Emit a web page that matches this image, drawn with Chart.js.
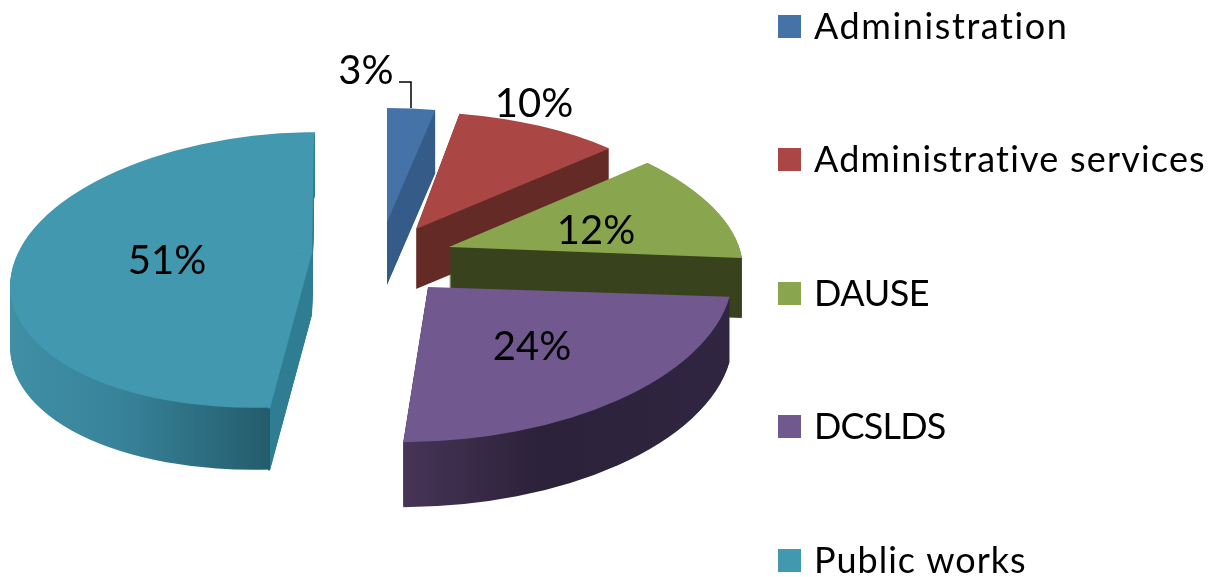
<!DOCTYPE html>
<html>
<head>
<meta charset="utf-8">
<style>html,body{margin:0;padding:0;background:#fff}canvas{display:block}</style>
<script src="https://cdn.jsdelivr.net/npm/chart.js@4"></script>
</head>
<body>
<canvas id="c" width="1210" height="577"></canvas>
<script>
const categories = ["Administration", "Administrative services", "DAUSE", "DCSLDS", "Public works"];
const shares = [3, 10, 12, 24, 51];
const topColours = ["#4572A7", "#AA4643", "#89A54E", "#71588F", "#4198AF"];

// Style only: how each exploded slice is posed in the tilted 3-D view.
// Each part has a tilt matrix [a, b, c, d] and an apex, where the slice's tip lands.
// A part may be limited to one half of the slice and to screen x beyond fromX.
const slicePoses = [
  {parts:[{apex:[387,222], m:[0.89,0,0,0.393]}], depth:63, side:[[380,"#355C88"],[440,"#355C88"]]},
  {parts:[{apex:[416,229], m:[0.94,0,0.027,0.405]}], depth:60, side:[[410,"#642A26"],[615,"#642A26"]]},
  {parts:[{apex:[449,247], m:[1.01,0.038,0.076,0.465]}], depth:60, side:[[445,"#38421D"],[745,"#38421D"]]},
  {parts:[{apex:[428,287], m:[1.04,0.034,-0.151,0.534]}], depth:65, side:[[400,"#483558"],[540,"#2B2139"],[735,"#312642"]]},
  {parts:[
     {apex:[284,270], m:[0.938,0,-0.1076,0.475]},
     {apex:[312,253], m:[1.034,-0.04,-0.21,0.539], half:1, fromX:268},
     {apex:[312,253], m:[1.034,-0.04,-0.007,0.414], half:-1, fromX:268}
   ], depth:62, side:[[10,"#3F8FA5"],[120,"#38839A"],[269.5,"#235C6C"],[270.5,"#2F7D92"],[320,"#2F7D92"]]}
];
const drawOrder = [0, 1, 2, 4, 3];
const labelSpots = [[366,71],[534,104],[596,231],[532,347],[167,261]];
const leaderLine = [[399,82],[411,82],[411,108]];
const legendRows = [27,160,294,427,561];
const legendTracking = [1.6, 1.2, -0.4, -0.8, 1];
const FONT = '"Lato"';

const tilted3D = {
  id: 'tilted3D',
  beforeDatasetsDraw(chart) {
    const ctx = chart.ctx, arcs = chart.getDatasetMeta(0).data;
    drawOrder.forEach(i => {
      const el = arcs[i], pose = slicePoses[i], R = el.outerRadius, k = 290 / R;
      const orig = el.options;
      const stamp = (part, dy) => {
        const [a, b, c, d] = part.m.map(v => v * k);
        ctx.save();
        if (part.fromX !== undefined) {
          ctx.beginPath();
          ctx.rect(part.fromX, 0, chart.width, chart.height);
          ctx.clip();
        }
        ctx.translate(part.apex[0], part.apex[1] + dy);
        ctx.transform(a, b, c, d, 0, 0);
        ctx.translate(-el.x, -el.y);
        if (part.half) {
          ctx.beginPath();
          if (part.half > 0) ctx.rect(el.x - 2 * R, el.y - 0.5, 4 * R, 2 * R);
          else ctx.rect(el.x - 2 * R, el.y - 2 * R, 4 * R, 2 * R + 0.5);
          ctx.clip();
        }
        el.draw(ctx);
        ctx.restore();
      };
      // side walls: gradient isolines kept vertical on screen
      const x0 = pose.side[0][0], x1 = pose.side[pose.side.length - 1][0];
      pose.parts.forEach(part => {
        const [a, , c] = part.m.map(v => v * k);
        const norm = a * a + c * c;
        const P = sx => {
          const s = sx - part.apex[0];
          return [el.x + a * s / norm, el.y + c * s / norm];
        };
        const g = ctx.createLinearGradient(...P(x0), ...P(x1));
        pose.side.forEach(([sx, col]) => g.addColorStop((sx - x0) / (x1 - x0), col));
        el.options = {...orig, backgroundColor: g};
        for (let y = pose.depth; y >= 1; y--) stamp(part, y);
      });
      el.options = orig;
      pose.parts.forEach(part => stamp(part, 0));
    });
    return false;
  },
  afterDraw(chart) {
    const ctx = chart.ctx, total = shares.reduce((s, v) => s + v, 0);
    ctx.save();
    ctx.fillStyle = '#000';
    ctx.textBaseline = 'middle';
    ctx.textAlign = 'center';
    ctx.font = '40px ' + FONT;
    shares.forEach((v, i) => {
      ctx.fillText(Math.round(v / total * 100) + '%', labelSpots[i][0], labelSpots[i][1]);
    });
    ctx.strokeStyle = '#000'; ctx.lineWidth = 1.5;
    ctx.beginPath();
    leaderLine.forEach(([x, y], i) => i ? ctx.lineTo(x, y) : ctx.moveTo(x, y));
    ctx.stroke();
    ctx.textAlign = 'left';
    ctx.font = '36px ' + FONT;
    categories.forEach((name, i) => {
      ctx.fillStyle = topColours[i];
      ctx.fillRect(778, legendRows[i] - 12, 23, 23);
      ctx.fillStyle = '#000';
      ctx.letterSpacing = legendTracking[i] + 'px';
      ctx.fillText(name, 814, legendRows[i]);
    });
    ctx.restore();
  }
};

new Chart(document.getElementById('c'), {
  type: 'pie',
  data: {
    labels: categories,
    datasets: [{data: shares, backgroundColor: topColours, borderWidth: 0}]
  },
  options: {
    responsive: false,
    animation: false,
    layout: {padding: 0},
    plugins: {legend: {display: false}, tooltip: {enabled: false}}
  },
  plugins: [tilted3D]
});
</script>
</body>
</html>
